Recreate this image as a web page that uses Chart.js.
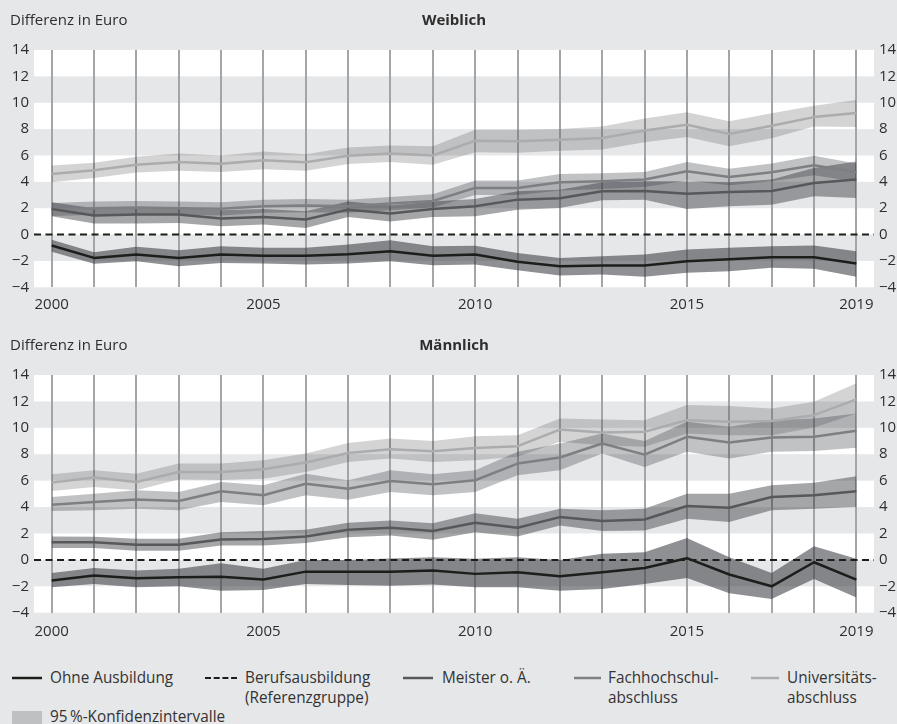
<!DOCTYPE html>
<html lang="de">
<head>
<meta charset="utf-8">
<title>Differenz in Euro – Weiblich / Männlich</title>
<script src="https://cdn.jsdelivr.net/npm/chart.js@4/dist/chart.umd.min.js"></script>
<style>
  html, body { margin: 0; padding: 0; background: #e6e7e9; }
  #wrap { position: relative; width: 897px; height: 724px; overflow: hidden; background: #e6e7e9;
          font-family: "Open Sans", "Noto Sans", sans-serif; color: #333; }
  canvas { position: absolute; left: 0; }
  #cw { top: 0; }
  #cm { top: 325px; }
  .lg { position: absolute; font-size: 17px; line-height: 20px; white-space: nowrap;
        transform: scaleX(0.9); transform-origin: left center; }
  .sw { position: absolute; }
</style>
</head>
<body>
<div id="wrap">
  <canvas id="cw" width="897" height="325" style="width:897px;height:325px"></canvas>
  <canvas id="cm" width="897" height="337" style="width:897px;height:337px"></canvas>
  <div id="legend"></div>
</div>
<script>
// Years on the x axis and the ones that carry a label
const years = [2000, 2001, 2002, 2003, 2004, 2005, 2006, 2007, 2008, 2009,
               2010, 2011, 2012, 2013, 2014, 2015, 2016, 2017, 2018, 2019];
const labelYears = [2000, 2005, 2010, 2015, 2019];
const yTicks = [-4, -2, 0, 2, 4, 6, 8, 10, 12, 14];

const seriesNames = ['Ohne Ausbildung', 'Berufsausbildung\n(Referenzgruppe)', 'Meister o. Ä.',
                     'Fachhochschul-\nabschluss', 'Universitäts-\nabschluss'];
const ciLabel = '95\u2009%-Konfidenzintervalle';

// Reference group (Berufsausbildung) = 0 in every year
const refValues = [0, 0, 0, 0, 0, 0, 0, 0, 0, 0, 0, 0, 0, 0, 0, 0, 0, 0, 0, 0];

// ---- Weiblich: estimates and 95 % confidence limits ----
const wOhne     = [-0.83, -1.77, -1.52, -1.77, -1.52, -1.60, -1.60, -1.50, -1.26, -1.60, -1.52, -2.07, -2.40, -2.35, -2.35, -2.02, -1.87, -1.72, -1.72, -2.20];
const wOhneHi   = [-0.40, -1.34, -0.93, -1.19, -0.88, -1.00, -1.00, -0.75, -0.43, -0.88, -0.85, -1.40, -1.77, -1.64, -1.52, -1.14, -1.00, -0.88, -0.83, -1.26];
const wOhneLo   = [-1.30, -2.22, -2.02, -2.40, -2.15, -2.20, -2.27, -2.20, -2.02, -2.32, -2.27, -2.70, -3.10, -3.03, -3.20, -2.90, -2.78, -2.52, -2.60, -3.20];

const wMeister   = [1.94, 1.44, 1.52, 1.52, 1.21, 1.34, 1.14, 1.89, 1.59, 1.94, 2.15, 2.65, 2.75, 3.28, 3.30, 3.10, 3.23, 3.30, 3.91, 4.17];
const wMeisterHi = [2.45, 2.00, 2.10, 2.10, 1.84, 1.94, 1.77, 2.50, 2.20, 2.50, 2.70, 3.28, 3.40, 3.96, 4.04, 4.04, 3.96, 4.17, 5.05, 5.55];
const wMeisterLo = [1.39, 0.83, 0.83, 0.88, 0.63, 0.76, 0.50, 1.34, 1.00, 1.34, 1.39, 1.89, 2.02, 2.60, 2.65, 1.94, 2.15, 2.27, 2.90, 2.78];

const wFach   = [1.90, 2.00, 2.05, 2.00, 1.95, 2.15, 2.20, 2.15, 2.35, 2.55, 3.54, 3.54, 3.96, 4.04, 4.17, 4.80, 4.37, 4.72, 5.25, 4.72];
const wFachHi = [2.40, 2.50, 2.55, 2.50, 2.45, 2.65, 2.70, 2.65, 2.85, 3.05, 4.10, 4.10, 4.60, 4.65, 4.75, 5.50, 5.00, 5.40, 5.98, 5.40];
const wFachLo = [1.40, 1.50, 1.55, 1.50, 1.45, 1.65, 1.70, 1.65, 1.85, 2.05, 3.00, 3.00, 3.35, 3.45, 3.60, 4.10, 3.75, 4.05, 4.50, 4.00];

const wUni   = [4.60, 4.87, 5.30, 5.50, 5.38, 5.63, 5.48, 5.98, 6.14, 6.00, 7.12, 7.07, 7.20, 7.32, 7.90, 8.33, 7.63, 8.26, 8.91, 9.22];
const wUniHi = [5.23, 5.45, 5.90, 6.15, 6.00, 6.30, 6.10, 6.60, 6.75, 6.70, 7.95, 7.95, 8.00, 8.20, 8.80, 9.27, 8.60, 9.20, 9.77, 10.20];
const wUniLo = [3.96, 4.30, 4.70, 4.85, 4.75, 4.95, 4.85, 5.35, 5.50, 5.30, 6.24, 6.20, 6.35, 6.45, 7.00, 7.40, 6.70, 7.30, 8.20, 8.16];

// ---- Männlich: estimates and 95 % confidence limits ----
const mOhne   = [-1.57, -1.19, -1.39, -1.32, -1.27, -1.49, -0.89, -0.89, -0.89, -0.81, -1.06, -0.94, -1.24, -0.94, -0.61, 0.13, -1.11, -2.00, -0.18, -1.49];
const mOhneHi = [-0.99, -0.61, -0.81, -0.68, -0.25, -0.68, 0.00, 0.00, 0.10, 0.20, 0.08, 0.20, 0.00, 0.46, 0.58, 1.65, 0.20, -0.99, 1.04, 0.08];
const mOhneLo = [-2.08, -1.82, -2.08, -2.00, -2.33, -2.28, -1.82, -1.90, -1.95, -1.87, -2.08, -2.08, -2.33, -2.20, -1.82, -1.37, -2.53, -2.96, -1.44, -2.84];

const mMeister   = [1.34, 1.34, 1.14, 1.14, 1.54, 1.59, 1.77, 2.28, 2.43, 2.18, 2.81, 2.43, 3.24, 2.94, 3.06, 4.08, 3.95, 4.76, 4.89, 5.19];
const mMeisterHi = [1.77, 1.75, 1.60, 1.60, 2.10, 2.18, 2.28, 2.81, 2.99, 2.78, 3.54, 3.11, 3.87, 3.75, 3.87, 5.00, 5.00, 5.65, 5.85, 6.33];
const mMeisterLo = [0.89, 0.89, 0.70, 0.70, 1.09, 1.09, 1.27, 1.72, 1.85, 1.52, 2.10, 1.77, 2.60, 2.18, 2.23, 3.11, 2.86, 3.75, 3.87, 4.00];

const mFach   = [4.18, 4.38, 4.58, 4.46, 5.19, 4.89, 5.77, 5.39, 5.97, 5.72, 6.03, 7.29, 7.75, 8.81, 7.97, 9.32, 8.89, 9.27, 9.32, 9.77];
const mFachHi = [4.76, 5.00, 5.27, 5.14, 5.90, 5.65, 6.53, 6.03, 6.78, 6.48, 6.78, 8.18, 8.81, 9.57, 9.00, 10.46, 10.08, 10.58, 10.70, 11.09];
const mFachLo = [3.70, 3.75, 3.87, 3.75, 4.38, 4.13, 4.89, 4.56, 5.14, 4.89, 5.14, 6.41, 6.78, 8.05, 7.04, 8.18, 7.67, 8.18, 8.25, 8.50];

const mUni   = [5.85, 6.23, 5.90, 6.66, 6.66, 6.86, 7.37, 8.10, 8.38, 8.23, 8.48, 8.61, 9.87, 9.65, 9.70, 10.58, 10.46, 10.51, 10.96, 12.15];
const mUniHi = [6.48, 6.78, 6.53, 7.29, 7.30, 7.54, 8.05, 8.86, 9.19, 9.01, 9.37, 9.44, 10.70, 10.63, 10.58, 11.72, 11.65, 11.47, 11.97, 13.37];
const mUniLo = [5.22, 5.52, 5.27, 6.08, 6.05, 6.15, 6.66, 7.42, 7.67, 7.42, 7.54, 7.80, 8.94, 8.68, 8.56, 9.57, 9.44, 9.44, 10.03, 11.09];

// ---- styling ----
const PAGE_BG = '#e6e7e9';
const STRIPE = '#e6e7e9';
const TEXT = '#2e2e2e';
const GRID = '#a4a5a8';
const FONT = '"Open Sans", "Noto Sans", sans-serif';
const LINE = { ohne: '#1d1d1b', ref: '#1d1d1b', meister: '#58585b', fach: '#7e7f82', uni: '#abacae' };
const BAND = { ohne: 'rgba(50,52,58,0.55)', meister: 'rgba(50,52,58,0.44)', fach: 'rgba(50,52,58,0.30)', uni: 'rgba(50,52,58,0.21)' };

const X_PAD = 0.417;               // margin left/right of the first and last year
const X_MIN = years[0] - X_PAD;
const X_MAX = years[years.length - 1] + X_PAD;

const fmtNum = v => (v < 0 ? '\u2212' + Math.abs(v) : String(v));

// White plot area with grey horizontal stripes plus the panel headings
const panelBackdrop = {
  id: 'panelBackdrop',
  beforeDraw(chart, args, opts) {
    const { ctx, chartArea: a, scales } = chart;
    const y = scales.y;
    ctx.save();
    ctx.fillStyle = PAGE_BG;
    ctx.fillRect(0, 0, chart.width, chart.height);
    ctx.fillStyle = '#ffffff';
    ctx.fillRect(a.left, a.top, a.right - a.left, a.bottom - a.top);
    ctx.fillStyle = STRIPE;
    // every other 2-unit interval, counted down from the top tick
    const desc = yTicks.slice().sort((p, q) => q - p);
    for (let i = 1; i + 1 < desc.length; i += 2) {
      const y1 = y.getPixelForValue(desc[i]);
      const y2 = y.getPixelForValue(desc[i + 1]);
      ctx.fillRect(a.left, y1, a.right - a.left, y2 - y1);
    }
    ctx.fillStyle = TEXT;
    ctx.textBaseline = 'middle';
    ctx.textAlign = 'left';
    ctx.font = '15px ' + FONT;
    ctx.fillText('Differenz in Euro', 10, 21);
    ctx.textAlign = 'center';
    ctx.font = 'bold 15px ' + FONT;
    ctx.fillText(opts.title, (a.left + a.right) / 2, 21);
    ctx.restore();
  }
};

const pts = arr => arr.map((v, i) => ({ x: years[i], y: v }));

function buildDatasets(s) {
  const line = (label, vals, color) => ({
    label, data: pts(vals), borderColor: color, borderWidth: 2.5,
    pointRadius: 0, fill: false, tension: 0, borderJoinStyle: 'round'
  });
  const bandPair = (hi, lo, color) => [
    { data: pts(hi), borderWidth: 0, borderColor: 'transparent', backgroundColor: color, pointRadius: 0, fill: '+1' },
    { data: pts(lo), borderWidth: 0, borderColor: 'transparent', pointRadius: 0, fill: false }
  ];
  return [
    line(seriesNames[0], s.ohne[0], LINE.ohne),
    {
      label: seriesNames[1],
      data: [{ x: X_MIN, y: refValues[0] }, ...pts(refValues), { x: X_MAX, y: refValues[refValues.length - 1] }],
      borderColor: LINE.ref, borderWidth: 2, borderDash: [7, 4.5], pointRadius: 0, fill: false
    },
    line(seriesNames[2], s.meister[0], LINE.meister),
    line(seriesNames[3], s.fach[0], LINE.fach),
    line(seriesNames[4], s.uni[0], LINE.uni),
    ...bandPair(s.uni[1], s.uni[2], BAND.uni),
    ...bandPair(s.fach[1], s.fach[2], BAND.fach),
    ...bandPair(s.meister[1], s.meister[2], BAND.meister),
    ...bandPair(s.ohne[1], s.ohne[2], BAND.ohne)
  ];
}

function makePanel(canvasId, title, s, xAxisHeight, xLabelPad) {
  const yScale = (pos, width, pad) => ({
    type: 'linear', position: pos, min: yTicks[0], max: yTicks[yTicks.length - 1],
    afterBuildTicks: sc => { sc.ticks = yTicks.map(v => ({ value: v })); },
    afterFit: sc => { sc.width = width; },
    grid: { display: false, drawTicks: false },
    border: { display: false },
    ticks: { padding: pad, color: TEXT, font: { family: FONT, size: 15 }, callback: v => fmtNum(v) }
  });
  return new Chart(document.getElementById(canvasId), {
    type: 'line',
    data: { datasets: buildDatasets(s) },
    options: {
      responsive: false, animation: false, devicePixelRatio: 1,
      layout: { padding: { top: 50, left: 0, right: 0, bottom: 0 } },
      plugins: {
        legend: { display: false }, tooltip: { enabled: false },
        filler: { drawTime: 'beforeDatasetsDraw' },
        panelBackdrop: { title }
      },
      scales: {
        x: {
          type: 'linear', min: X_MIN, max: X_MAX,
          afterBuildTicks: sc => { sc.ticks = years.map(v => ({ value: v })); },
          afterFit: sc => { sc.height = xAxisHeight; },
          grid: { color: GRID, lineWidth: 2, drawTicks: false },
          border: { display: false },
          ticks: {
            autoSkip: false, maxRotation: 0, padding: xLabelPad, color: TEXT,
            font: { family: FONT, size: 15 },
            callback: v => (labelYears.includes(v) ? String(v) : '')
          }
        },
        y: yScale('left', 34, 5),
        y2: yScale('right', 23, 5)
      }
    },
    plugins: [panelBackdrop]
  });
}

makePanel('cw', 'Weiblich', {
  ohne: [wOhne, wOhneHi, wOhneLo], meister: [wMeister, wMeisterHi, wMeisterLo],
  fach: [wFach, wFachHi, wFachLo], uni: [wUni, wUniHi, wUniLo]
}, 37.7, 8);

makePanel('cm', 'Männlich', {
  ohne: [mOhne, mOhneHi, mOhneLo], meister: [mMeister, mMeisterHi, mMeisterLo],
  fach: [mFach, mFachHi, mFachLo], uni: [mUni, mUniHi, mUniLo]
}, 49.3, 10);

// ---- legend below the panels ----
(function buildLegend() {
  const host = document.getElementById('legend');
  const items = [
    { x: 12, w: 30, text: seriesNames[0], color: LINE.ohne, dash: null, tx: 50 },
    { x: 205, w: 32, text: seriesNames[1], color: LINE.ref, dash: '6,2.7', tx: 245 },
    { x: 403, w: 30, text: seriesNames[2], color: LINE.meister, dash: null, tx: 442 },
    { x: 574, w: 27, text: seriesNames[3], color: LINE.fach, dash: null, tx: 608 },
    { x: 751, w: 28, text: seriesNames[4], color: LINE.uni, dash: null, tx: 787 }
  ];
  const ns = 'http://www.w3.org/2000/svg';
  items.forEach(it => {
    const svg = document.createElementNS(ns, 'svg');
    svg.setAttribute('class', 'sw');
    svg.setAttribute('width', it.w);
    svg.setAttribute('height', 6);
    svg.style.left = it.x + 'px';
    svg.style.top = '675px';
    const ln = document.createElementNS(ns, 'line');
    ln.setAttribute('x1', 0); ln.setAttribute('x2', it.w);
    ln.setAttribute('y1', 3); ln.setAttribute('y2', 3);
    ln.setAttribute('stroke', it.color);
    ln.setAttribute('stroke-width', it.dash ? 2 : 2.5);
    if (it.dash) ln.setAttribute('stroke-dasharray', it.dash);
    svg.appendChild(ln);
    host.appendChild(svg);
    const t = document.createElement('div');
    t.className = 'lg';
    t.style.left = it.tx + 'px';
    t.style.top = '667px';
    t.innerHTML = it.text.split('\n').join('<br>');
    host.appendChild(t);
  });
  const box = document.createElement('div');
  box.style.cssText = 'position:absolute;left:12px;top:711px;width:30px;height:13px;background:#bfc0c2;';
  host.appendChild(box);
  const t = document.createElement('div');
  t.className = 'lg';
  t.style.left = '50px';
  t.style.top = '706px';
  t.textContent = ciLabel;
  host.appendChild(t);
})();
</script>
</body>
</html>
